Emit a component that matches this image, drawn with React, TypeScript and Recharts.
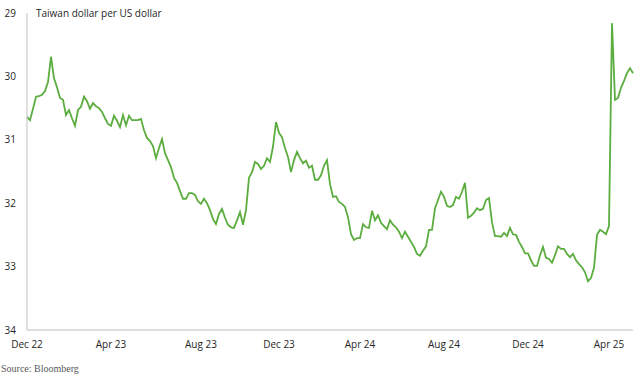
import { LineChart, Line, XAxis, YAxis } from "recharts";

// Taiwan dollar per US dollar, sampled roughly every 4-5 days from Dec 2022
const rates: number[] = [
  30.64, 30.69, 30.51, 30.32, 30.31, 30.29, 30.23, 30.09, 29.69, 30.03,
  30.17, 30.34, 30.37, 30.61, 30.53, 30.66, 30.78, 30.53, 30.48, 30.32,
  30.39, 30.51, 30.42, 30.47, 30.5, 30.56, 30.66, 30.75, 30.78, 30.62,
  30.7, 30.8, 30.61, 30.77, 30.62, 30.69, 30.69, 30.69, 30.67, 30.85,
  30.97, 31.02, 31.1, 31.29, 31.13, 30.99, 31.21, 31.32, 31.43, 31.6,
  31.68, 31.81, 31.93, 31.93, 31.84, 31.84, 31.87, 31.97, 32.01, 31.93,
  32.0, 32.11, 32.25, 32.33, 32.17, 32.09, 32.23, 32.34, 32.38, 32.39,
  32.27, 32.14, 32.34, 32.11, 31.6, 31.51, 31.35, 31.38, 31.46, 31.41,
  31.29, 31.35, 31.11, 30.72, 30.89, 30.96, 31.13, 31.27, 31.51, 31.32,
  31.19, 31.29, 31.37, 31.33, 31.44, 31.41, 31.63, 31.63, 31.56, 31.41,
  31.32, 31.7, 31.9, 31.89, 31.98, 32.01, 32.06, 32.22, 32.49, 32.58,
  32.55, 32.55, 32.33, 32.38, 32.39, 32.12, 32.27, 32.19, 32.31, 32.36,
  32.41, 32.27, 32.34, 32.38, 32.45, 32.55, 32.45, 32.53, 32.61, 32.69,
  32.8, 32.83, 32.75, 32.68, 32.42, 32.42, 32.08, 31.95, 31.82, 31.9,
  32.04, 32.06, 32.03, 31.9, 31.93, 31.82, 31.68, 32.23, 32.2, 32.15,
  32.08, 32.11, 32.09, 31.95, 31.92, 32.3, 32.52, 32.52, 32.53, 32.47,
  32.52, 32.39, 32.49, 32.5, 32.61, 32.69, 32.79, 32.79, 32.9, 32.99,
  32.99, 32.82, 32.69, 32.86, 32.88, 32.94, 32.82, 32.68, 32.72, 32.72,
  32.8, 32.85, 32.8, 32.9, 32.96, 33.01, 33.09, 33.23, 33.18, 33.02,
  32.5, 32.42, 32.45, 32.49, 32.36, 29.16, 30.37, 30.34, 30.18, 30.07,
  29.95, 29.87, 29.95,
];

const tickLabels = ["Dec 22", "Apr 23", "Aug 23", "Dec 23", "Apr 24", "Aug 24", "Dec 24", "Apr 25"];
const tickIndex = [0, 28, 58, 84, 111, 139, 167, 194];
const yTicks = [29, 30, 31, 32, 33, 34];

const data = rates.map((v, i) => ({ i, v }));

const font = "'Open Sans', sans-serif";
const axisColor = "#bfbfbf";
const textColor = "#262626";

export default function App() {
  return (
    <div
      style={{
        position: "absolute",
        left: 0,
        top: 0,
        width: 643,
        height: 381,
        background: "#fff",
        fontFamily: font,
      }}
    >
      <LineChart
        width={643}
        height={381}
        data={data}
        margin={{ top: 13, right: 10, bottom: 21, left: 0 }}
      >
        <XAxis
          dataKey="i"
          type="number"
          domain={[0, rates.length - 1]}
          ticks={tickIndex}
          tickFormatter={(v) => tickLabels[tickIndex.indexOf(v)] ?? ""}
          interval={0}
          height={30}
          tickLine={false}
          tickMargin={5}
          stroke={axisColor}
          tick={{ fill: textColor, fontSize: 10, fontFamily: font }}
        />
        <YAxis
          reversed
          domain={[29, 34]}
          ticks={yTicks}
          interval={0}
          width={27}
          tickLine={false}
          tickMargin={5}
          stroke={axisColor}
          tick={{ fill: textColor, fontSize: 10, fontFamily: font }}
        />
        <Line
          type="linear"
          dataKey="v"
          stroke="#5aad3e"
          strokeWidth={1.8}
          dot={false}
          isAnimationActive={false}
        />
      </LineChart>
      <div
        style={{
          position: "absolute",
          left: 36,
          top: 6,
          fontSize: 10,
          lineHeight: "14px",
          color: textColor,
          fontFamily: font,
        }}
      >
        Taiwan dollar per US dollar
      </div>
      <div
        style={{
          position: "absolute",
          left: 1,
          top: 362,
          fontSize: 10,
          lineHeight: "14px",
          color: "#595959",
          fontFamily: "'Liberation Serif', serif",
        }}
      >
        Source: Bloomberg
      </div>
    </div>
  );
}
